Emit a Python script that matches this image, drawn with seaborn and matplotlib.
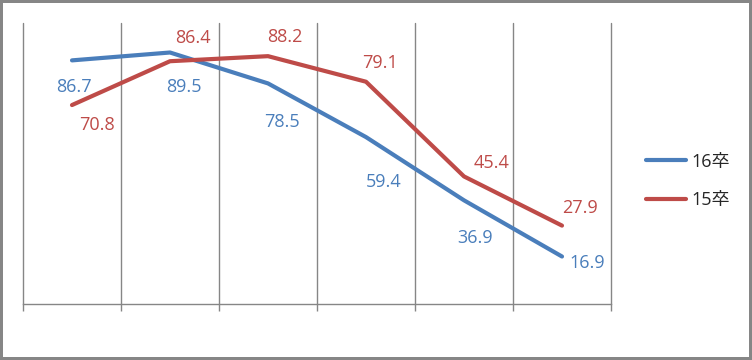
import numpy as np
import pandas as pd
import seaborn as sns
import matplotlib.pyplot as plt

# data
categories = ["A", "B", "C", "D", "E", "F"]
vals_16 = [86.7, 89.5, 78.5, 59.4, 36.9, 16.9]
vals_15 = [70.8, 86.4, 88.2, 79.1, 45.4, 27.9]
series = ["16卒", "15卒"]

df = pd.DataFrame({
    "x": list(range(len(categories))) * 2,
    "value": vals_16 + vals_15,
    "series": [series[0]] * len(vals_16) + [series[1]] * len(vals_15),
})

sns.set_style("white")
plt.rcParams["font.family"] = ["Open Sans", "Noto Sans CJK JP", "DejaVu Sans"]

blue = "#4A7EBB"
red = "#BE4B48"

fig = plt.figure(figsize=(7.52, 3.60), dpi=100)
fig.patch.set_edgecolor("#868686")
fig.patch.set_linewidth(3)
ax = fig.add_axes([23 / 752, 56 / 360, 588 / 752, 281 / 360])

sns.lineplot(data=df, x="x", y="value", hue="series", palette=[blue, red],
             linewidth=3, ax=ax, legend=True)

ax.set_xlim(-0.5, 5.5)
ax.set_ylim(0, 100)
ax.set_xticks(np.arange(-0.5, 6, 1))
ax.set_xticklabels([])
ax.set_yticks([])
ax.set_xlabel("")
ax.set_ylabel("")
ax.grid(axis="x", color="#868686", linewidth=1)
for gl in ax.get_xgridlines():
    gl.set_clip_on(False)
for s in ["top", "left", "right"]:
    ax.spines[s].set_visible(False)
ax.spines["bottom"].set_color("#868686")
ax.spines["bottom"].set_linewidth(1)
ax.tick_params(axis="x", direction="out", length=5, width=1, color="#868686", bottom=True)

# label offsets (points)
off_16 = [(1.5, -19), (10, -25), (10, -28), (13, -32), (8, -27), (18, -5)]
off_15 = [(18, -14.5), (16.5, 16.5), (12, 13.5), (10, 13.5), (20, 10), (13, 13)]
for i, v in enumerate(vals_16):
    ax.annotate(f"{v:.1f}", (i, v), xytext=off_16[i], textcoords="offset points",
                ha="center", va="center", color=blue, fontsize=13)
for i, v in enumerate(vals_15):
    ax.annotate(f"{v:.1f}", (i, v), xytext=off_15[i], textcoords="offset points",
                ha="center", va="center", color=red, fontsize=13)

leg = ax.legend(loc="center left", bbox_to_anchor=(630 / 752, 179 / 360),
                bbox_transform=fig.transFigure, frameon=False, fontsize=13,
                handlelength=2.2, labelspacing=1.15, handletextpad=0.3)
for line in leg.get_lines():
    line.set_linewidth(3)

fig.savefig("out.png", dpi=100)
